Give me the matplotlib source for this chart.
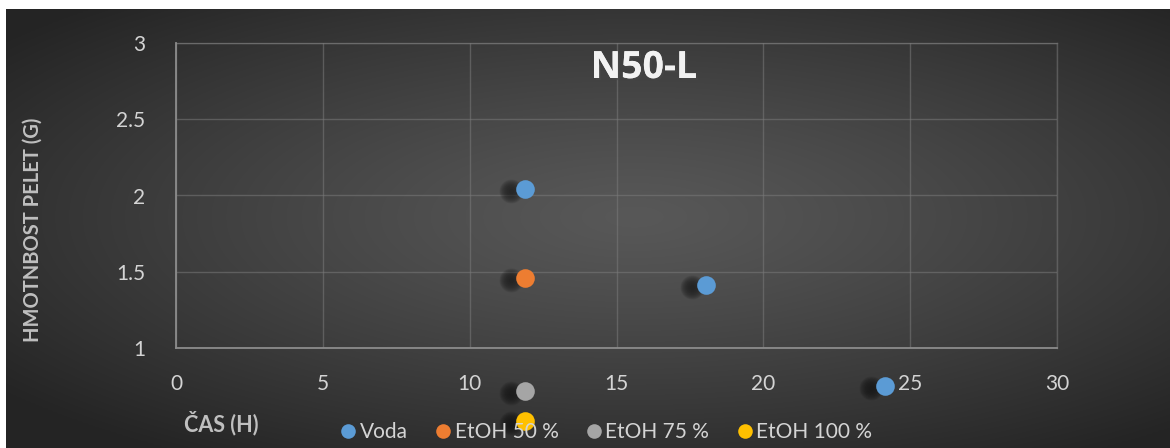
import numpy as np
import matplotlib
matplotlib.use("Agg")
import matplotlib.pyplot as plt
import matplotlib.transforms as mtransforms
import matplotlib.patheffects as pe
from matplotlib.lines import Line2D

plt.rcParams['font.family'] = ['Lato', 'DejaVu Sans']

# pellet mass over time for each solvent
voda_x = [11.9, 18.05, 24.15]
voda_y = [2.04, 1.41, 0.75]
etoh50_x = [11.9]
etoh50_y = [1.46]
etoh75_x = [11.9]
etoh75_y = [0.72]
etoh100_x = [11.9]
etoh100_y = [0.52]

series_names = ["Voda", "EtOH 50 %", "EtOH 75 %", "EtOH 100 %"]
series_colors = ["#5b9bd5", "#ed7d31", "#a5a5a5", "#ffc000"]

x_ticks = [0, 5, 10, 15, 20, 25, 30]
y_ticks = [1, 1.5, 2, 2.5, 3]
y_tick_labels = ["1", "1.5", "2", "2.5", "3"]

W, H = 1170, 448
fig = plt.figure(figsize=(W / 100, H / 100), dpi=100, facecolor="white")

# dark radial background
bg = fig.add_axes([6 / W, 0, 1 - 6 / W, (H - 9) / H], zorder=0)
gx, gy = np.meshgrid(np.linspace(-1, 1, 600), np.linspace(-1, 1, 240))
r = np.sqrt(((gx - 0.08) / 1.05) ** 2 + ((gy + 0.05) / 1.0) ** 2)
r = np.clip(r / 1.3, 0, 1)
shade = 0.345 - (0.345 - 0.145) * r ** 1.2
bg.imshow(np.dstack([shade, shade, shade]), aspect="auto", extent=[0, 1, 0, 1],
          interpolation="bilinear")
bg.set_axis_off()

ax = fig.add_axes([176 / W, (H - 348) / H, 881 / W, 305 / H], zorder=1)
ax.set_facecolor("none")
ax.set_xlim(0, 30)
ax.set_ylim(1, 3)
ax.set_xticks(x_ticks)
ax.set_yticks(y_ticks)
ax.set_yticklabels(y_tick_labels)
ax.tick_params(length=0, labelsize=15, labelcolor="#d4d4d4")
ax.tick_params(axis="x", pad=19)
ax.tick_params(axis="y", pad=22)
ax.grid(True, color="#7a7a7a", linewidth=1.0, alpha=0.55)
for side in ["top", "right"]:
    ax.spines[side].set_visible(False)
for side in ["left", "bottom"]:
    ax.spines[side].set_color("#8c8c8c")
    ax.spines[side].set_linewidth(1.3)
ax.plot([0, 30], [3, 3], color="#7a7a7a", alpha=0.55, lw=1.0, clip_on=False)
ax.plot([30, 30], [1, 3], color="#7a7a7a", alpha=0.55, lw=1.0, clip_on=False)

# soft drop shadow offset to the left of each marker, built from stacked discs
shadow_tr = mtransforms.offset_copy(ax.transData, fig=fig, x=-14, y=-2, units="dots")
shadow_sizes = np.linspace(300, 15, 10)

all_series = [(voda_x, voda_y), (etoh50_x, etoh50_y), (etoh75_x, etoh75_y),
              (etoh100_x, etoh100_y)]
for (xs, ys), color in zip(all_series, series_colors):
    for s in shadow_sizes:
        ax.scatter(xs, ys, s=s, color="#080808", alpha=0.075, linewidths=0,
                   transform=shadow_tr, clip_on=False, zorder=3)
    ax.scatter(xs, ys, s=180, color=color, linewidths=0, clip_on=False, zorder=4)

fig.text(644 / W, (H - 68) / H, "N50-L", ha="center", va="center",
         fontsize=27, fontweight="bold", color="#f2f2f2", family="Open Sans",
         path_effects=[pe.withSimplePatchShadow(offset=(1.5, -1.5), alpha=0.5),
                       pe.Normal()])

fig.text(33 / W, (H - 230) / H, "HMOTNBOST PELET (G)", rotation=90, ha="center",
         va="center", fontsize=14.5, fontweight="bold", color="#bfbfbf")
fig.text(221 / W, (H - 423) / H, "ČAS (H)", ha="center", va="center",
         fontsize=15.5, fontweight="bold", color="#bfbfbf")

handles = [Line2D([], [], linestyle="none", marker="o", markersize=10.5,
                  markerfacecolor=c, markeredgewidth=0) for c in series_colors]
leg = fig.legend(handles, series_names, loc="center", bbox_to_anchor=(606 / W, (H - 432) / H),
                 ncol=4, frameon=False, fontsize=15, labelcolor="#d4d4d4",
                 handlelength=0.8, handletextpad=0.15, columnspacing=1.3)
leg.set_zorder(5)

fig.savefig("out.png", dpi=100, facecolor="white")
